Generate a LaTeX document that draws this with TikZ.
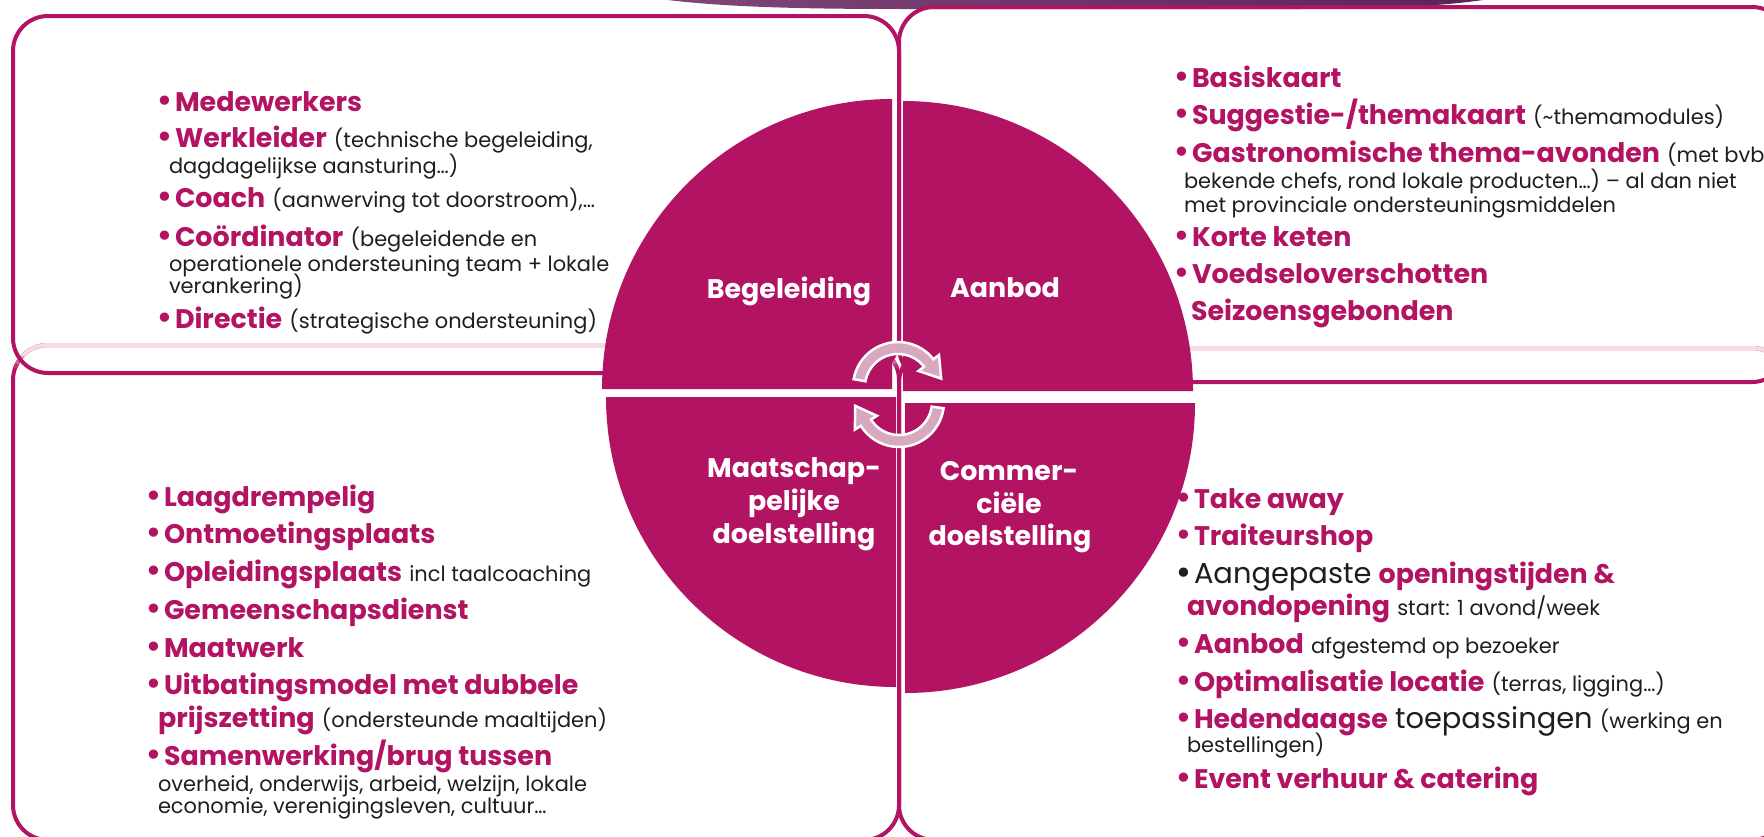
\documentclass[tikz,border=0pt]{standalone}
\usepackage{fontspec}
\setmainfont{Poppins}
\newfontfamily\dejavu{DejaVu Sans}
\definecolor{mag}{RGB}{179,19,99}
\definecolor{pale}{RGB}{245,218,231}
\definecolor{ink}{RGB}{30,30,30}
\definecolor{arr}{RGB}{216,168,190}
\definecolor{barL}{RGB}{128,70,120}
\definecolor{barR}{RGB}{85,38,86}
\newcommand\xbold[1]{{\fontsize{27}{32}\selectfont\bfseries\color{mag}#1}}
\newcommand\xsmall[1]{{\fontsize{21}{24}\selectfont\color{ink}#1}}
\newcommand\xlarge[1]{{\fontsize{29}{33}\selectfont\color{ink}#1}}
\newcommand\xbul{\makebox[17bp][l]{\hspace*{-3bp}\raisebox{-1.5bp}{\dejavu\fontsize{32}{34}\selectfont\color{mag}•}}}
\newcommand\xbulk{\makebox[17bp][l]{\hspace*{-3bp}\raisebox{-1.5bp}{\dejavu\fontsize{32}{34}\selectfont\color{ink}•}}}
\tikzset{
  frame/.style={draw=mag, line width=4bp, rounded corners=35bp},
  txt/.style={anchor=base west, inner sep=0pt, outer sep=0pt, font=\fontsize{27}{32}\selectfont},
  quad/.style={fill=mag},
  qlab/.style={anchor=base, inner sep=0pt, text=white, font=\fontsize{27}{32}\selectfont\bfseries},
  cyc/.style={fill=arr, draw=white, line width=2.5bp, line join=miter},
}
\begin{document}
\begin{tikzpicture}[x=1bp,y=1bp]
\useasboundingbox (0,0) rectangle (1764,-837);
\clip (0,0) rectangle (1764,-837);
\fill[white] (0,0) rectangle (1764,-837);

% top bar
\shade[left color=barL,right color=barR] (660,1) .. controls (720,-7) and (800,-9) .. (900,-9) -- (1300,-9) .. controls (1400,-9) and (1450,-5) .. (1490,1) -- cycle;

% lower frames
\draw[frame] (13,-345) rectangle (899,-840);
\draw[frame] (899,-348) rectangle (1787,-840);
\begin{scope}
  \clip (0,-330) rectangle (1764,-356);
  \draw[frame,draw=pale] (13,-345) rectangle (899,-840);
  \draw[frame,draw=pale] (899,-348) rectangle (1787,-840);
\end{scope}
\begin{scope}
  \clip (0,-356) rectangle (1764,-360);
  \draw[frame,draw=pale!70!mag] (13,-345) rectangle (899,-840);
  \draw[frame,draw=pale!70!mag] (899,-348) rectangle (1787,-840);
\end{scope}
\begin{scope}
  \clip (0,-360) rectangle (1764,-364);
  \draw[frame,draw=pale!40!mag] (13,-345) rectangle (899,-840);
  \draw[frame,draw=pale!40!mag] (899,-348) rectangle (1787,-840);
\end{scope}
\begin{scope}
  \clip (0,-364) rectangle (1764,-367);
  \draw[frame,draw=pale!15!mag] (13,-345) rectangle (899,-840);
  \draw[frame,draw=pale!15!mag] (899,-348) rectangle (1787,-840);
\end{scope}

% upper frames
\draw[frame] (13,-16) rectangle (899,-373);
\draw[frame] (899,-7) rectangle (1787,-382);

% top-left texts
\node[txt] (tl1) at (158,-111) {\xbul\xbold{Medewerkers}};
\node[txt] (tl2) at (158,-147) {\xbul\xbold{Werkleider} \xsmall{(technische begeleiding,}};
\node[txt] (tl3) at (169,-173) {\xsmall{dagdagelijkse aansturing…)}};
\node[txt] (tl4) at (158,-207) {\xbul\xbold{Coach} \xsmall{(aanwerving tot doorstroom),…}};
\node[txt] (tl5) at (158,-246) {\xbul\xbold{Coördinator} \xsmall{(begeleidende en}};
\node[txt] (tl6) at (169,-271) {\xsmall{operationele ondersteuning team + lokale}};
\node[txt] (tl7) at (169,-293) {\xsmall{verankering)}};
\node[txt] (tl8) at (158,-328) {\xbul\xbold{Directie} \xsmall{(strategische ondersteuning)}};

% top-right texts
\node[txt] (tr1) at (1175,-87) {\xbul\xbold{Basiskaart}};
\node[txt] (tr2) at (1175,-124) {\xbul\xbold{Suggestie-/themakaart} \xsmall{(\textasciitilde themamodules)}};
\node[txt] (tr3) at (1175,-162) {\xbul\xbold{Gastronomische thema-avonden} \xsmall{(met bvb}};
\node[txt] (tr4) at (1184,-188) {\xsmall{bekende chefs, rond lokale producten…) – al dan niet}};
\node[txt] (tr5) at (1184,-212) {\xsmall{met provinciale ondersteuningsmiddelen}};
\node[txt] (tr6) at (1175,-246) {\xbul\xbold{Korte keten}};
\node[txt] (tr7) at (1175,-283) {\xbul\xbold{Voedseloverschotten}};
\node[txt] (tr8) at (1191,-320) {\xbold{Seizoensgebonden}};

% bottom-left texts
\node[txt] (bl1) at (147,-506) {\xbul\xbold{Laagdrempelig}};
\node[txt] (bl2) at (147,-543) {\xbul\xbold{Ontmoetingsplaats}};
\node[txt] (bl3) at (147,-581) {\xbul\xbold{Opleidingsplaats} \xsmall{incl taalcoaching}};
\node[txt] (bl4) at (147,-619) {\xbul\xbold{Gemeenschapsdienst}};
\node[txt] (bl5) at (147,-657) {\xbul\xbold{Maatwerk}};
\node[txt] (bl6) at (147,-694) {\xbul\xbold{Uitbatingsmodel met dubbele}};
\node[txt] (bl7) at (158,-727) {\xbold{prijszetting} \xsmall{(ondersteunde maaltijden)}};
\node[txt] (bl8) at (147,-765) {\xbul\xbold{Samenwerking/brug tussen}};
\node[txt] (bl9) at (158,-791) {\xsmall{overheid, onderwijs, arbeid, welzijn, lokale}};
\node[txt] (bl10) at (158,-813) {\xsmall{economie, verenigingsleven, cultuur…}};

% bottom-right texts
\node[txt] (br1) at (1177,-508) {\xbul\xbold{Take away}};
\node[txt] (br2) at (1177,-545) {\xbul\xbold{Traiteurshop}};
\node[txt] (br3) at (1177,-583) {\xbulk\xlarge{Aangepaste} \xbold{openingstijden \&}};
\node[txt] (br4) at (1187,-615) {\xbold{avondopening} \xsmall{start: 1 avond/week}};
\node[txt] (br5) at (1177,-653) {\xbul\xbold{Aanbod} \xsmall{afgestemd op bezoeker}};
\node[txt] (br6) at (1177,-691) {\xbul\xbold{Optimalisatie locatie} \xsmall{(terras, ligging…)}};
\node[txt] (br7) at (1177,-728) {\xbul\xbold{Hedendaagse} \xlarge{toepassingen} \xsmall{(werking en}};
\node[txt] (br8) at (1187,-752) {\xsmall{bestellingen)}};
\node[txt] (br9) at (1177,-788) {\xbul\xbold{Event verhuur \& catering}};

% quadrants
\fill[quad] (892,-389) -- (602,-389) arc[start angle=180, end angle=90, radius=290bp] -- cycle;
\fill[quad] (903,-391) -- (903,-101) arc[start angle=90, end angle=0, radius=290bp] -- cycle;
\fill[quad] (896,-397) -- (606,-397) arc[start angle=180, end angle=270, radius=290bp] -- cycle;
\fill[quad] (905,-403) -- (1195,-403) arc[start angle=0, end angle=-90, radius=290bp] -- cycle;

% quadrant labels
\node[qlab] (qa) at (789,-298) {Begeleiding};
\node[qlab] (qb) at (1005,-297) {Aanbod};
\node[qlab] (qc1) at (794,-477) {Maatschap-};
\node[qlab] (qc2) at (794,-510) {pelijke};
\node[qlab] (qc3) at (794,-543) {doelstelling};
\node[qlab] (qd1) at (1009,-480) {Commer-};
\node[qlab] (qd2) at (1009,-513) {ciële};
\node[qlab] (qd3) at (1010,-545) {doelstelling};

% cycle arrows
\begin{scope}[shift={(898,-387)}]
\draw[cyc] (170:45bp) arc[start angle=170, end angle=38, radius=45bp] -- (38:52bp) -- (11:44bp) -- (38:26bp) -- (38:33bp) arc[start angle=38, end angle=170, radius=33bp] -- cycle;
\end{scope}
\begin{scope}[shift={(899,-402)}]
\draw[cyc] (-8:45bp) arc[start angle=-8, end angle=-148, radius=45bp] -- (-148:52bp) -- (-175:44bp) -- (-148:26bp) -- (-148:33bp) arc[start angle=-148, end angle=-8, radius=33bp] -- cycle;
\end{scope}
\end{tikzpicture}
\end{document}
